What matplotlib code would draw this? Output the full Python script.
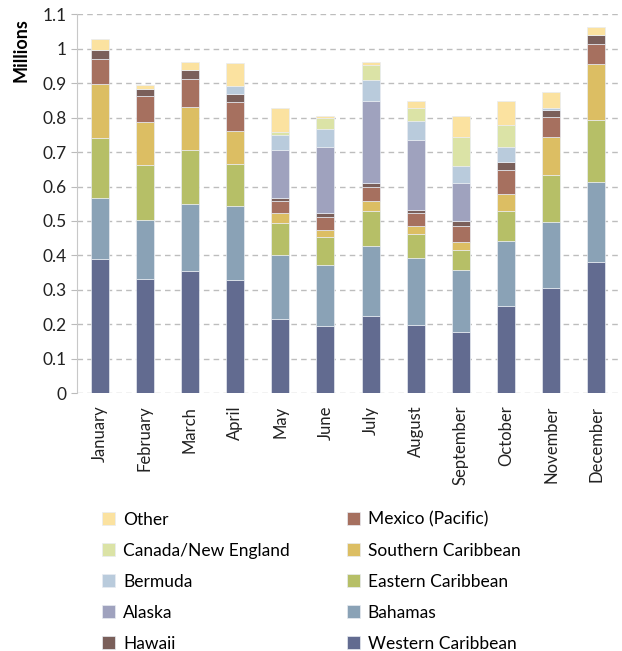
import numpy as np
import matplotlib.pyplot as plt

plt.rcParams['font.family'] = ['Lato', 'DejaVu Sans']

months = ['January', 'February', 'March', 'April', 'May', 'June', 'July',
          'August', 'September', 'October', 'November', 'December']

# passengers per region, millions (bottom of stack first)
western_caribbean = [0.389, 0.331, 0.355, 0.329, 0.215, 0.195, 0.223, 0.198, 0.179, 0.252, 0.305, 0.381]
bahamas           = [0.179, 0.172, 0.195, 0.214, 0.185, 0.177, 0.204, 0.194, 0.180, 0.191, 0.193, 0.233]
eastern_caribbean = [0.172, 0.159, 0.156, 0.122, 0.094, 0.081, 0.102, 0.071, 0.057, 0.086, 0.135, 0.178]
southern_caribbean= [0.159, 0.126, 0.126, 0.097, 0.028, 0.022, 0.028, 0.021, 0.024, 0.050, 0.111, 0.163]
mexico_pacific    = [0.070, 0.075, 0.081, 0.082, 0.037, 0.037, 0.042, 0.040, 0.046, 0.070, 0.058, 0.058]
hawaii            = [0.026, 0.021, 0.024, 0.024, 0.009, 0.010, 0.012, 0.009, 0.014, 0.022, 0.019, 0.028]
alaska            = [0.000, 0.000, 0.000, 0.000, 0.139, 0.194, 0.236, 0.202, 0.109, 0.000, 0.000, 0.000]
bermuda           = [0.000, 0.000, 0.000, 0.024, 0.043, 0.052, 0.062, 0.055, 0.051, 0.043, 0.008, 0.000]
canada_ne         = [0.000, 0.000, 0.000, 0.000, 0.007, 0.032, 0.043, 0.039, 0.083, 0.064, 0.000, 0.000]
other             = [0.032, 0.012, 0.024, 0.068, 0.071, 0.006, 0.011, 0.019, 0.062, 0.069, 0.045, 0.022]

series = [
    ('Western Caribbean', western_caribbean, '#626b90'),
    ('Bahamas', bahamas, '#8aa2b6'),
    ('Eastern Caribbean', eastern_caribbean, '#b6bf67'),
    ('Southern Caribbean', southern_caribbean, '#dcbe63'),
    ('Mexico (Pacific)', mexico_pacific, '#a6705f'),
    ('Hawaii', hawaii, '#7a5f5a'),
    ('Alaska', alaska, '#9fa2be'),
    ('Bermuda', bermuda, '#b9cbdc'),
    ('Canada/New England', canada_ne, '#dbe3a6'),
    ('Other', other, '#fbe2a0'),
]

fig = plt.figure(figsize=(6.22, 6.51), dpi=100)
ax = fig.add_axes([0.124, 0.396, 0.871, 0.582])

x = np.arange(len(months))
bottom = np.zeros(len(months))
handles = []
for name, vals, color in series:
    vals = np.array(vals)
    b = ax.bar(x, vals, 0.4, bottom=bottom, color=color, edgecolor='#e8ecf2',
               linewidth=0.5, label=name, zorder=3)
    handles.append(b)
    bottom += vals

ax.set_xlim(-0.5, 11.5)
ax.set_ylim(0, 1.1)
ax.set_yticks(np.arange(0, 1.11, 0.1))
ax.set_yticklabels(['0', '0.1', '0.2', '0.3', '0.4', '0.5', '0.6', '0.7', '0.8', '0.9', '1', '1.1'])
ax.set_xticks(x)
ax.set_xticklabels(months, rotation=90)
ax.tick_params(axis='x', length=0, pad=9, labelsize=12, colors='#222222')
ax.tick_params(axis='y', length=4, color='#bbbbbb', labelsize=12.5, colors='#222222')
ax.yaxis.grid(True, linestyle=(0, (4, 3)), color='#bdbdbd', linewidth=1, zorder=0)

for side in ['top', 'right', 'bottom']:
    ax.spines[side].set_visible(False)
ax.spines['left'].set_color('#c8c8c8')

ax.set_ylabel('Millions', fontsize=13, fontweight='bold', loc='top')
ax.yaxis.set_label_coords(-0.088, 0.99)

fig.legend(handles[::-1], [s[0] for s in series][::-1], ncol=2, frameon=False,
           loc='upper left', bbox_to_anchor=(0.139, 0.238), fontsize=12.5,
           handlelength=0.75, handleheight=0.75, handletextpad=0.45,
           columnspacing=3.3, labelspacing=0.86)

fig.savefig('out.png', dpi=100)
